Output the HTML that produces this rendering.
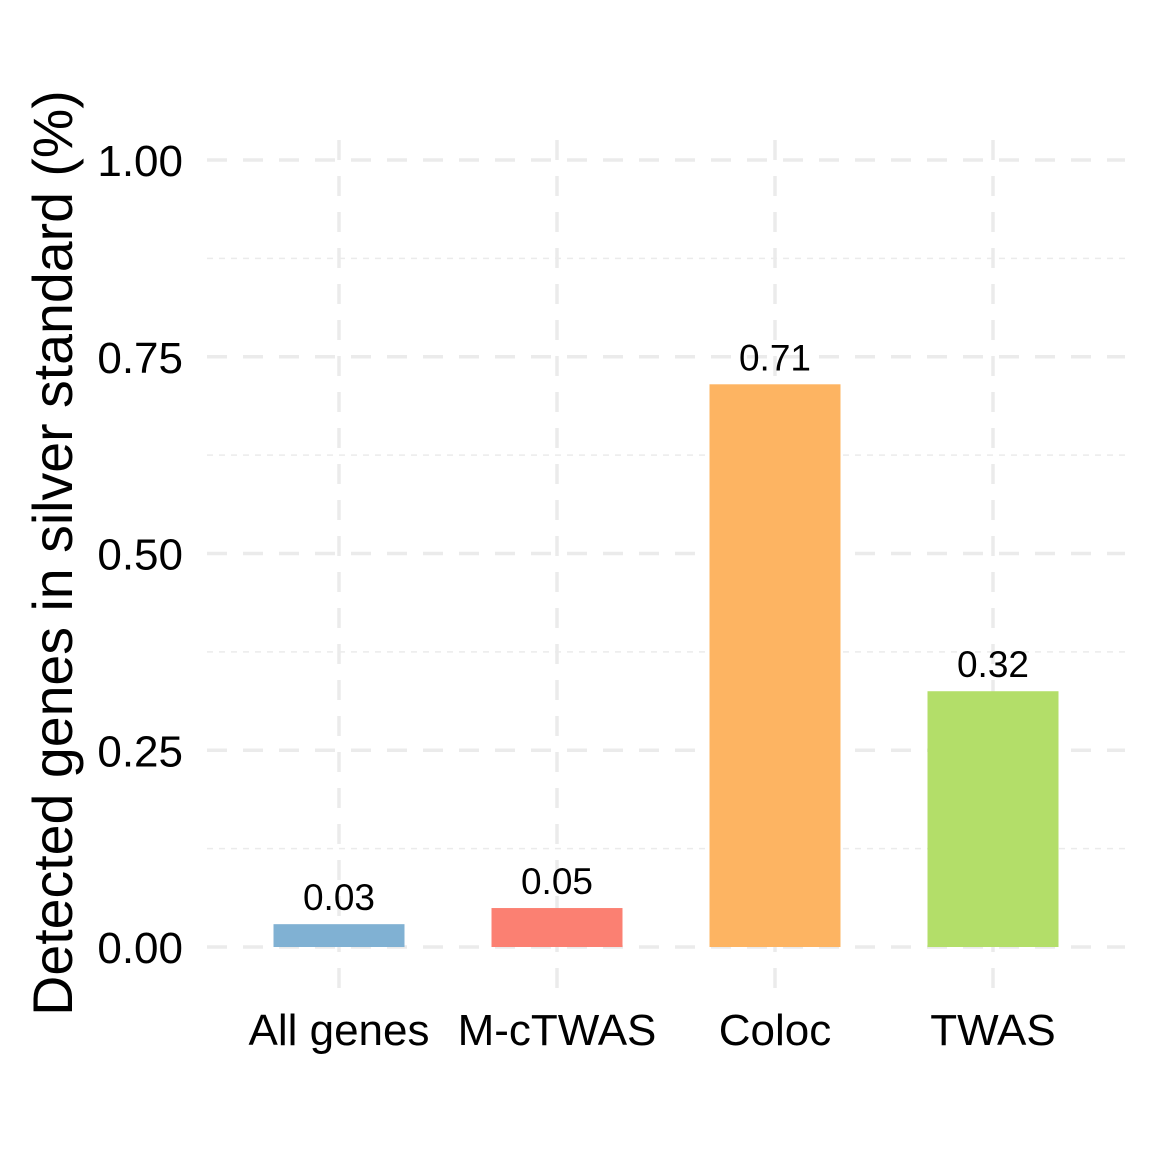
<!DOCTYPE html>
<html><head><meta charset="utf-8"><style>
html,body{margin:0;padding:0;background:#fff;}
svg{display:block;font-family:"Liberation Sans",Arial,sans-serif;}
</style></head><body>
<svg id="chart" width="1152" height="1152" viewBox="0 0 1152 1152" xmlns="http://www.w3.org/2000/svg">
<rect width="1152" height="1152" fill="#fff"/>
<g id="grid"></g>
<g id="bars"></g>
<g id="labels"></g>
<g id="yticks"></g>
<g id="xticks"></g>
<text transform="translate(72,553) rotate(-90)" text-anchor="middle" font-size="55.5" fill="#000">Detected genes in silver standard (%)</text>
</svg>
<script>
const categories = ["All genes","M-cTWAS","Coloc","TWAS"];
const values = [0.029,0.0495,0.715,0.325];
const valueLabels = ["0.03","0.05","0.71","0.32"];
const colors = ["#80b1d3","#fb8072","#fdb462","#b3de69"];
const yTicks = [0,0.25,0.5,0.75,1];
const yTickLabels = ["0.00","0.25","0.50","0.75","1.00"];
const yMinor = [0.125,0.375,0.625,0.875];

const NS="http://www.w3.org/2000/svg";
const y0=947, y1=160, pxL=207, pxR=1125;
const yScale=v=>y0-(y0-y1)*v;
const xScale=i=>339+218*i;
const bw=131;
function mk(tag,attrs,parent){const e=document.createElementNS(NS,tag);for(const k in attrs)e.setAttribute(k,attrs[k]);parent.appendChild(e);return e;}
const grid=document.getElementById('grid');
yMinor.forEach(v=>{
  const l=mk('line',{x1:pxL,x2:pxR,y1:yScale(v),y2:yScale(v),stroke:'#ebebeb','stroke-width':1.5,'stroke-dasharray':'6 6'},grid);
  
  
});
yTicks.forEach(v=>{
  const l=mk('line',{x1:pxL,x2:pxR,y1:yScale(v),y2:yScale(v),stroke:'#ebebeb','stroke-width':3.5,'stroke-dasharray':'20 16'},grid);
  
  
});
categories.forEach((c,i)=>{
  const l=mk('line',{x1:xScale(i),x2:xScale(i),y1:140,y2:990,stroke:'#ebebeb','stroke-width':3.5,'stroke-dasharray':'20 16'},grid);
  
  
});
const bars=document.getElementById('bars'),labs=document.getElementById('labels'),xt=document.getElementById('xticks'),yt=document.getElementById('yticks');
categories.forEach((c,i)=>{
  const top=yScale(values[i]);
  const r=mk('rect',{x:xScale(i)-bw/2,y:top,width:bw,height:y0-top,fill:colors[i]},bars);
  
  
  const t=mk('text',{x:xScale(i),y:top-14,'text-anchor':'middle','font-size':37,fill:'#000'},labs);
  t.textContent=valueLabels[i];
  
  
  const x=mk('text',{x:xScale(i),y:1045,'text-anchor':'middle','font-size':44,fill:'#000'},xt);
  x.textContent=c;
  
  
});
yTicks.forEach((v,i)=>{
  const t=mk('text',{x:183,y:yScale(v)+16,'text-anchor':'end','font-size':44,fill:'#000'},yt);
  t.textContent=yTickLabels[i];
  
  
});
</script>
</body></html>
